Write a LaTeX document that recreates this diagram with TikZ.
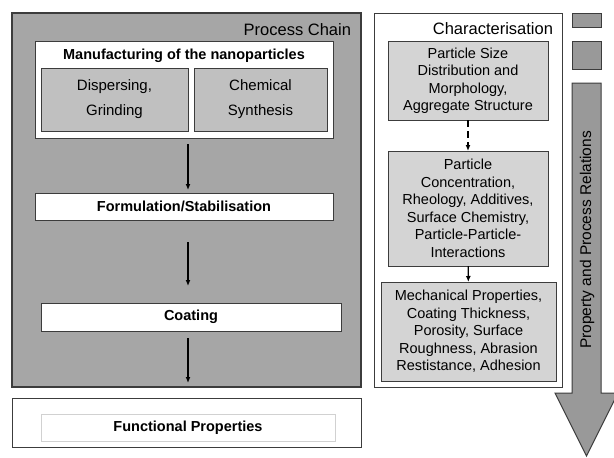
\documentclass[tikz,border=0pt]{standalone}
\usepackage{fontspec}
\setmainfont{Liberation Sans}
\usepackage{tikz}
\usetikzlibrary{calc}
\usetikzlibrary{positioning}
\usetikzlibrary{arrows.meta}

\definecolor{chaingray}{RGB}{166,166,166}
\definecolor{stepgray}{RGB}{192,192,192}
\definecolor{chargray}{RGB}{212,212,212}
\definecolor{arrowgray}{RGB}{153,153,153}
\definecolor{edgegray}{RGB}{60,60,60}

\begin{document}
\begin{tikzpicture}[
		x=1pt,y=-1pt,
		every node/.style={inner sep=0pt,outer sep=0pt,text=black},
		frame/.style={draw=edgegray,line width=1pt,anchor=center},
		chainbox/.style={frame,fill=chaingray,line width=1.4pt},
		whitebox/.style={frame,fill=white},
		subbox/.style={frame,fill=stepgray,align=center,font=\fontsize{15}{25}\selectfont},
		charbox/.style={frame,fill=chargray,align=center,font=\fontsize{14.5}{17.5}\selectfont},
		stepbox/.style={frame,fill=white,font=\bfseries\fontsize{14.5}{17}\selectfont},
		headline/.style={anchor=base east,font=\fontsize{16.5}{20}\selectfont},
		flow/.style={-{Latex[length=6pt,width=5pt]},line width=1.3pt,black}
		]
		\useasboundingbox (0,0) rectangle (614,458);

		% process chain
		\node[chainbox,minimum width=349pt,minimum height=374pt] (chain) at (186.5,200) {};
		\node[headline] (chaintitle) at (351,35) {Process Chain};
		\node[whitebox,minimum width=298pt,minimum height=97pt] (manu) at (184,89.5) {};
		\node[anchor=base,font=\bfseries\fontsize{14.5}{17}\selectfont] (manutitle) at (184,59) {Manufacturing of the nanoparticles};
		\node[subbox,minimum width=147pt,minimum height=63pt] (disp) at (114.5,99.5) {Dispersing,\\Grinding};
		\node[subbox,minimum width=133pt,minimum height=63pt] (chem) at (260.5,99.5) {Chemical\\Synthesis};
		\node[stepbox,minimum width=298pt,minimum height=27pt] (form) at (184,206.5) {Formulation/Stabilisation};
		\node[stepbox,minimum width=300pt,minimum height=28pt] (coat) at (191,317) {Coating};
		\node[whitebox,minimum width=349pt,minimum height=49pt] (func) at (186.5,422.5) {};
		\node[frame,draw=black!18,line width=0.8pt,fill=white,minimum width=294pt,minimum height=27pt,
			font=\bfseries\fontsize{14.5}{17}\selectfont] (funcin) at (188,427.5) {Functional Properties};

		\draw[flow,shorten <=6pt,shorten >=3pt] (manu.south -| disp.east) -- (form.north -| disp.east);
		\draw[flow,shorten <=22pt,shorten >=17pt] (form.south -| disp.east) -- (coat.north -| disp.east);
		\draw[flow,shorten <=7pt,shorten >=15pt] (coat.south -| disp.east) -- (func.north -| disp.east);

		% characterisation
		\node[whitebox,minimum width=188pt,minimum height=374pt] (char) at (468,200) {};
		\node[headline] (chartitle) at (553,34) {Characterisation};
		\node[charbox,minimum width=160pt,minimum height=79pt] (size) at (468,80.5)
			{Particle Size\\Distribution and\\Morphology,\\Aggregate Structure};
		\node[charbox,minimum width=160pt,minimum height=115pt] (conc) at (468,208.5)
			{Particle\\Concentration,\\Rheology, Additives,\\Surface Chemistry,\\Particle-Particle-\\Interactions};
		\node[charbox,minimum width=175pt,minimum height=99pt] (mech) at (468.5,331.5)
			{Mechanical Properties,\\Coating Thickness,\\Porosity, Surface\\Roughness, Abrasion\\Restistance, Adhesion};
		\draw[flow,dashed,dash pattern=on 7pt off 4pt] (size) -- (conc);
		\draw[flow] (conc) -- (mech);

		% property and process relations
		\node[frame,fill=arrowgray,minimum width=29pt,minimum height=14pt] (sqa) at (586.5,20) {};
		\node[frame,fill=arrowgray,minimum width=29pt,minimum height=28pt] (sqb) at (586.5,55) {};
		\draw[frame,fill=arrowgray] (572,83) -- (601,83) -- (601,393) -- (618,393) -- (586.5,456)
			-- (555,393) -- (572,393) -- cycle;
		\node[rotate=90,font=\fontsize{15.5}{18}\selectfont] (relations) at (587,240) {Property and Process Relations};
	\end{tikzpicture}
\end{document}
